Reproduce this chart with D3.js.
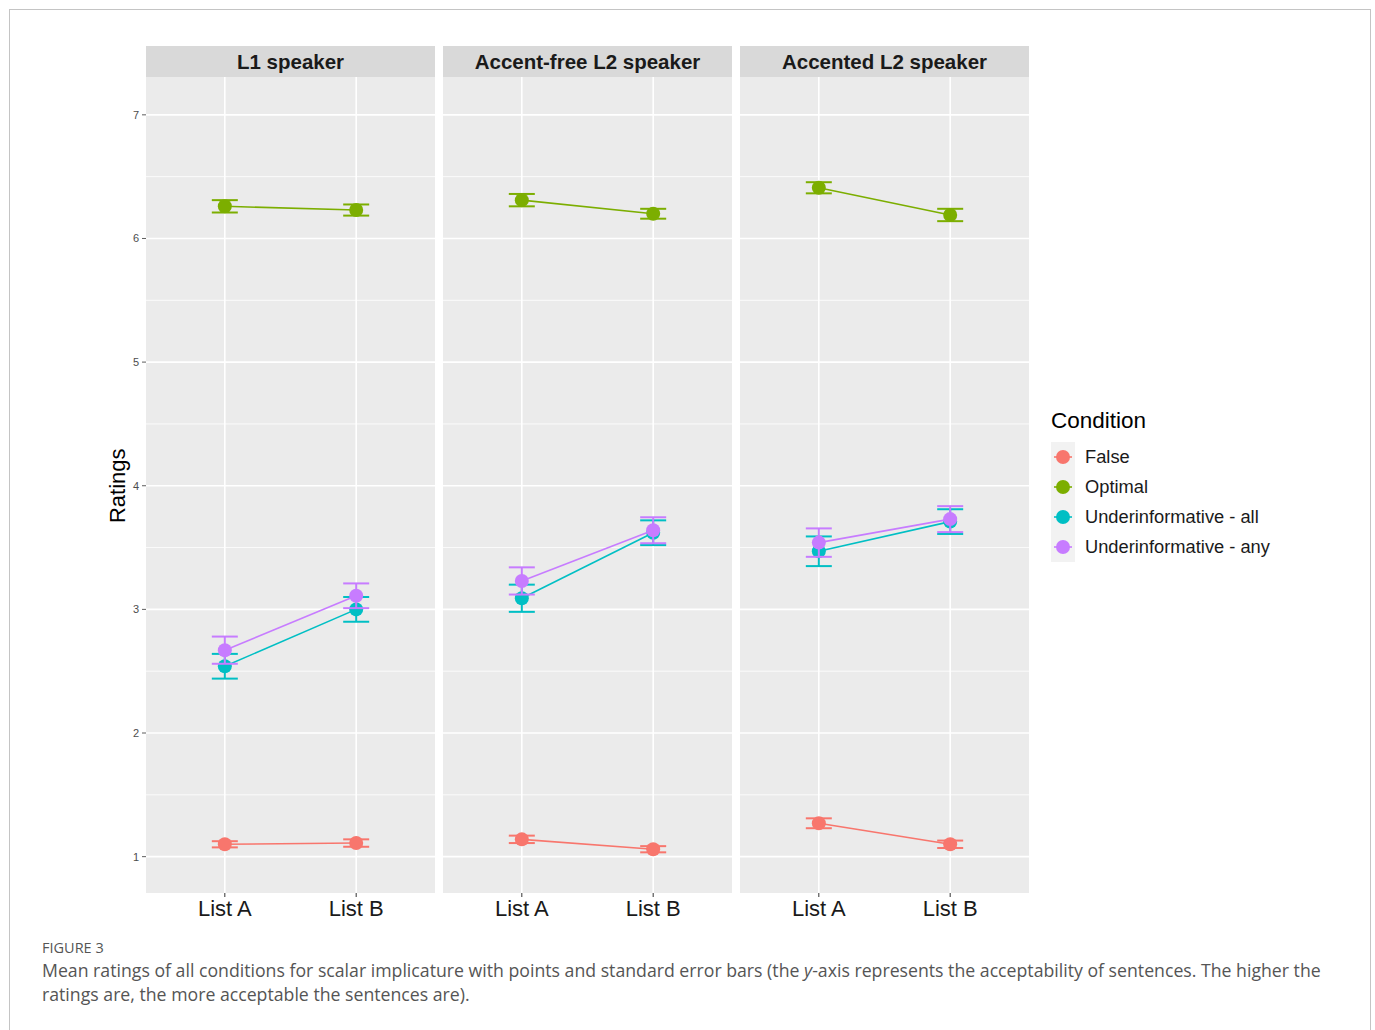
<!DOCTYPE html>
<html>
<head>
<meta charset="utf-8">
<script src="https://cdn.jsdelivr.net/npm/d3@7"></script>
<style>
  body { margin: 0; background: #fff; }
  svg { display: block; }
</style>
</head>
<body>
<div id="chart"><svg></svg></div>
<script>
// panels (facets), x categories and the legend conditions
var panels = ["L1 speaker", "Accent-free L2 speaker", "Accented L2 speaker"];
var lists = ["List A", "List B"];
var conditions = ["False", "Optimal", "Underinformative - all", "Underinformative - any"];
var colors = ["#F8766D", "#7CAE00", "#00BFC4", "#C77CFF"];
var yTicks = [1, 2, 3, 4, 5, 6, 7];

// means, order: L1 A, L1 B, free A, free B, accented A, accented B
var falseMean = [1.10, 1.11, 1.14, 1.06, 1.27, 1.10];
var optimalMean = [6.26, 6.23, 6.31, 6.20, 6.41, 6.19];
var allMean = [2.54, 3.00, 3.09, 3.62, 3.47, 3.71];
var anyMean = [2.67, 3.11, 3.23, 3.64, 3.54, 3.73];

// standard errors, same order
var falseSe = [0.025, 0.03, 0.03, 0.025, 0.04, 0.03];
var optimalSe = [0.05, 0.045, 0.05, 0.04, 0.045, 0.05];
var allSe = [0.10, 0.10, 0.11, 0.10, 0.12, 0.10];
var anySe = [0.11, 0.10, 0.11, 0.105, 0.115, 0.105];

var means = [falseMean, optimalMean, allMean, anyMean];
var ses = [falseSe, optimalSe, allSe, anySe];

var width = 1375, height = 1030;
var svg = d3.select("#chart svg").attr("width", width).attr("height", height);

// frame around the figure
svg.append("rect")
    .attr("x", 9.5).attr("y", 9.5)
    .attr("width", 1361).attr("height", 1040)
    .attr("fill", "none").attr("stroke", "#c4c4c4");

var panelTop = 77, panelBottom = 893, stripTop = 46;
var panelW = 289, panelGap = 8, firstLeft = 146;

var y = d3.scaleLinear().domain([0.706, 7.306]).range([panelBottom, panelTop]);

var font = "'Liberation Sans', Arial, sans-serif";

panels.forEach(function (name, p) {
    var left = firstLeft + p * (panelW + panelGap);
    // ggplot discrete expand: categories at 0.6 and 1.6 units of 2.2
    var x = d3.scalePoint().domain(lists)
        .range([left + panelW * 0.6 / 2.2, left + panelW * 1.6 / 2.2]);

    var g = svg.append("g");

    g.append("rect")
        .attr("x", left).attr("y", panelTop)
        .attr("width", panelW).attr("height", panelBottom - panelTop)
        .attr("fill", "#EBEBEB");

    // minor grid
    d3.range(0.5, 7.5, 1).forEach(function (v) {
        if (y(v) < panelTop || y(v) > panelBottom) return;
        g.append("line")
            .attr("x1", left).attr("x2", left + panelW)
            .attr("y1", y(v)).attr("y2", y(v))
            .attr("stroke", "#fff").attr("stroke-width", 0.8);
    });
    // major grid
    yTicks.forEach(function (v) {
        g.append("line")
            .attr("x1", left).attr("x2", left + panelW)
            .attr("y1", y(v)).attr("y2", y(v))
            .attr("stroke", "#fff").attr("stroke-width", 1.6);
    });
    lists.forEach(function (l) {
        g.append("line")
            .attr("x1", x(l)).attr("x2", x(l))
            .attr("y1", panelTop).attr("y2", panelBottom)
            .attr("stroke", "#fff").attr("stroke-width", 1.6);
    });

    // strip
    g.append("rect")
        .attr("x", left).attr("y", stripTop)
        .attr("width", panelW).attr("height", panelTop - stripTop)
        .attr("fill", "#D9D9D9");
    g.append("text")
        .attr("x", left + panelW / 2).attr("y", (stripTop + panelTop) / 2 + 7)
        .attr("text-anchor", "middle")
        .style("font-family", font).style("font-size", "20.5px").style("font-weight", "bold")
        .attr("fill", "#1a1a1a")
        .text(name);

    // x tick marks and labels
    lists.forEach(function (l) {
        g.append("line")
            .attr("x1", x(l)).attr("x2", x(l))
            .attr("y1", panelBottom).attr("y2", panelBottom + 4)
            .attr("stroke", "#333");
        g.append("text")
            .attr("x", x(l)).attr("y", panelBottom + 23)
            .attr("text-anchor", "middle")
            .style("font-family", font).style("font-size", "22px")
            .attr("fill", "#1a1a1a")
            .text(l);
    });

    // series
    conditions.forEach(function (c, ci) {
        var pts = lists.map(function (l, li) {
            return { list: l, m: means[ci][p * 2 + li], se: ses[ci][p * 2 + li] };
        });
        var col = colors[ci];
        g.append("path")
            .datum(pts)
            .attr("fill", "none").attr("stroke", col).attr("stroke-width", 1.6)
            .attr("d", d3.line().x(function (d) { return x(d.list); }).y(function (d) { return y(d.m); }));

        pts.forEach(function (d) {
            var cx = x(d.list), hw = 13;
            var eb = g.append("g").attr("stroke", col).attr("stroke-width", 2).attr("fill", "none");
            eb.append("line").attr("x1", cx).attr("x2", cx).attr("y1", y(d.m - d.se)).attr("y2", y(d.m + d.se));
            eb.append("line").attr("x1", cx - hw).attr("x2", cx + hw).attr("y1", y(d.m - d.se)).attr("y2", y(d.m - d.se));
            eb.append("line").attr("x1", cx - hw).attr("x2", cx + hw).attr("y1", y(d.m + d.se)).attr("y2", y(d.m + d.se));
            g.append("circle").attr("cx", cx).attr("cy", y(d.m)).attr("r", 7).attr("fill", col);
        });
    });
});

// y axis
var yAxis = svg.append("g");
yTicks.forEach(function (v) {
    yAxis.append("line")
        .attr("x1", firstLeft - 4).attr("x2", firstLeft)
        .attr("y1", y(v)).attr("y2", y(v))
        .attr("stroke", "#333").attr("stroke-width", 0.8);
    yAxis.append("text")
        .attr("x", firstLeft - 7).attr("y", y(v) + 4)
        .attr("text-anchor", "end")
        .style("font-family", font).style("font-size", "11px")
        .attr("fill", "#4D4D4D")
        .text(v);
});
svg.append("text")
    .attr("transform", "translate(125," + y(4) + ") rotate(-90)")
    .attr("text-anchor", "middle")
    .style("font-family", font).style("font-size", "22px")
    .attr("fill", "#000")
    .text("Ratings");

// legend
var legend = svg.append("g").attr("transform", "translate(1051,0)");
legend.append("text")
    .attr("x", 0).attr("y", 428)
    .style("font-family", font).style("font-size", "22.5px")
    .attr("fill", "#000")
    .text("Condition");
legend.append("rect")
    .attr("x", 0).attr("y", 442).attr("width", 24).attr("height", 120)
    .attr("fill", "#F2F2F2");
conditions.forEach(function (c, i) {
    var ky = 457 + i * 30;
    legend.append("line")
        .attr("x1", 3).attr("x2", 21).attr("y1", ky).attr("y2", ky)
        .attr("stroke", colors[i]).attr("stroke-width", 1.6);
    legend.append("circle").attr("cx", 12).attr("cy", ky).attr("r", 7).attr("fill", colors[i]);
    legend.append("text")
        .attr("x", 34).attr("y", ky + 6)
        .style("font-family", font).style("font-size", "18.3px")
        .attr("fill", "#1a1a1a")
        .text(c);
});

// caption
var capFont = "'Open Sans', 'Noto Sans', sans-serif";
svg.append("text")
    .attr("x", 42).attr("y", 953)
    .style("font-family", capFont).style("font-size", "14.5px")
    .attr("fill", "#555")
    .text("FIGURE 3");
var cap1 = svg.append("text")
    .attr("x", 42).attr("y", 977)
    .style("font-family", capFont).style("font-size", "17.7px")
    .attr("fill", "#555");
cap1.append("tspan").text("Mean ratings of all conditions for scalar implicature with points and standard error bars (the ");
cap1.append("tspan").style("font-style", "italic").text("y");
cap1.append("tspan").text("-axis represents the acceptability of sentences. The higher the");
svg.append("text")
    .attr("x", 42).attr("y", 1001)
    .style("font-family", capFont).style("font-size", "17.7px")
    .attr("fill", "#555")
    .text("ratings are, the more acceptable the sentences are).");
</script>
</body>
</html>
